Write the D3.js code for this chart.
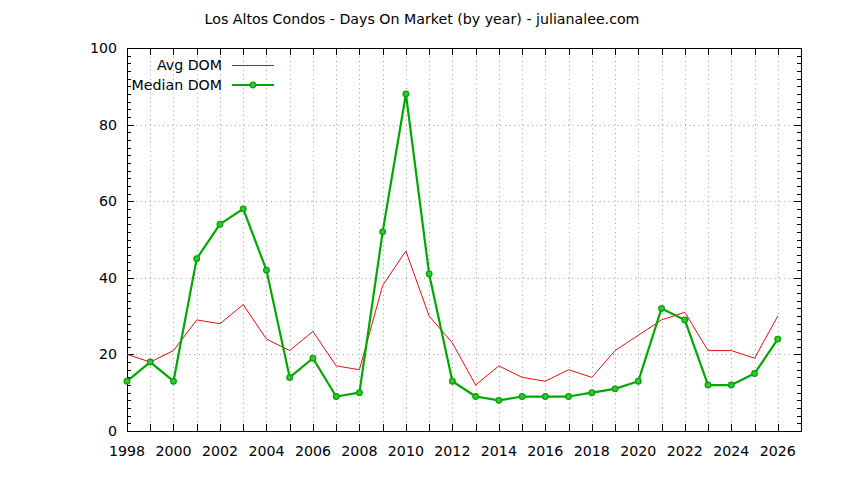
<!DOCTYPE html>
<html><head><meta charset="utf-8">
<script src="https://cdn.jsdelivr.net/npm/d3@7"></script>
<style>
body{margin:0;background:#fff;}
text{font-family:"DejaVu Sans",sans-serif;font-size:14.2px;fill:#000;}
</style></head><body>
<svg id="c" width="844" height="480"></svg>
<script>
const years = d3.range(1998, 2027);
const avgDOM = [20,18,21,29,28,33,24,21,26,17,16,38,47,30,23,12,17,14,13,16,14,21,25,29,31,21,21,19,30];
const medianDOM = [13,18,13,45,54,58,42,14,19,9,10,52,88,41,13,9,8,9,9,9,10,11,13,32,29,12,12,15,24];
const xTicks = d3.range(1998, 2027, 2);
const yTicks = [0,20,40,60,80,100];
const title = "Los Altos Condos - Days On Market (by year) - julianalee.com";
const seriesNames = ["Avg DOM","Median DOM"];

const svg = d3.select("#c");
const L=127, R=801, T=48, B=431;
const x = d3.scaleLinear().domain([1998,2027]).range([L,R]);
const y = d3.scaleLinear().domain([0,100]).range([B,T]);

// grid
const grid = svg.append("g").attr("stroke","#a0a0a0").attr("stroke-width",1).attr("stroke-dasharray","1,3.5");
years.slice(1).forEach(v=>grid.append("line").attr("x1",Math.round(x(v))+0.5).attr("x2",Math.round(x(v))+0.5).attr("y1",B).attr("y2",T));
[20,40,60,80].forEach(v=>grid.append("line").attr("x1",L).attr("x2",R).attr("y1",Math.round(y(v))+0.5).attr("y2",Math.round(y(v))+0.5));

// ticks
const tk = svg.append("g").attr("stroke","#000").attr("stroke-width",1);
years.forEach(v=>{
  const px=Math.round(x(v))+0.5;
  tk.append("line").attr("x1",px).attr("x2",px).attr("y1",B).attr("y2",B-7);
  tk.append("line").attr("x1",px).attr("x2",px).attr("y1",T).attr("y2",T+7);
});
d3.range(0,101,2).forEach(v=>{
  const py=Math.round(y(v))+0.5;
  const len = v%20===0?7:4;
  tk.append("line").attr("x1",L).attr("x2",L+len).attr("y1",py).attr("y2",py);
  tk.append("line").attr("x1",R).attr("x2",R-len).attr("y1",py).attr("y2",py);
});

// frame
svg.append("rect").attr("x",L+0.5).attr("y",T+0.5).attr("width",R-L).attr("height",B-T)
  .attr("fill","none").attr("stroke","#000").attr("stroke-width",1);

// labels
xTicks.forEach(v=>svg.append("text").attr("x",x(v)).attr("y",456).attr("text-anchor","middle").text(v));
yTicks.forEach(v=>svg.append("text").attr("x",117).attr("y",y(v)+5).attr("text-anchor","end").text(v));
svg.append("text").attr("x",422).attr("y",24).attr("text-anchor","middle").text(title);

// lines
const line = d3.line().x((d,i)=>x(years[i])).y(d=>y(d));
svg.append("path").datum(avgDOM).attr("d",line).attr("fill","none").attr("stroke","#e01010").attr("stroke-width",1);
svg.append("path").datum(medianDOM).attr("d",line).attr("fill","none").attr("stroke","#00a800").attr("stroke-width",2.2).attr("stroke-linejoin","round");
svg.append("g").selectAll("circle").data(medianDOM).join("circle")
  .attr("cx",(d,i)=>x(years[i])).attr("cy",d=>y(d)).attr("r",2.8)
  .attr("fill","#40c040").attr("stroke","#00a800").attr("stroke-width",1.3);

// legend
svg.append("text").attr("x",222).attr("y",70).attr("text-anchor","end").text(seriesNames[0]);
svg.append("line").attr("x1",232).attr("x2",274).attr("y1",65.5).attr("y2",65.5).attr("stroke","#e01010").attr("stroke-width",1);
svg.append("text").attr("x",222).attr("y",90).attr("text-anchor","end").text(seriesNames[1]);
svg.append("line").attr("x1",232).attr("x2",274).attr("y1",85).attr("y2",85).attr("stroke","#00a800").attr("stroke-width",2.2);
svg.append("circle").attr("cx",253).attr("cy",85).attr("r",2.8).attr("fill","#40c040").attr("stroke","#00a800").attr("stroke-width",1.3);
</script></body></html>
